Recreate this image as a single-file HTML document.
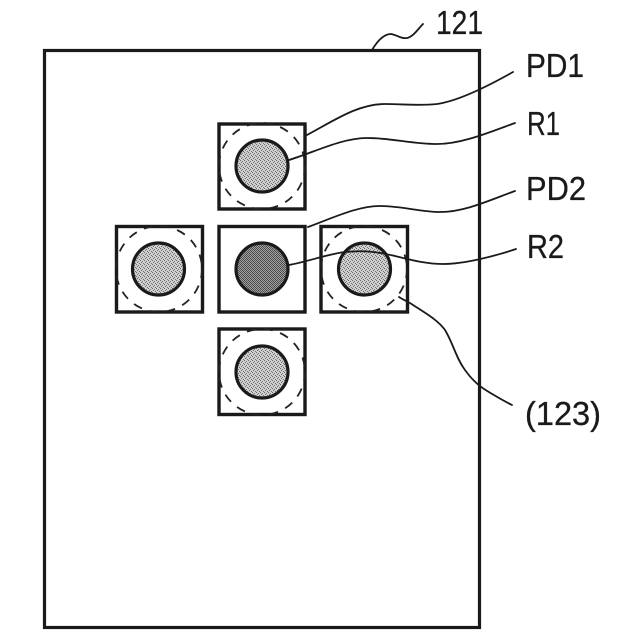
<!DOCTYPE html>
<html>
<head>
<meta charset="utf-8">
<style>
html,body{margin:0;padding:0;background:#fff;width:640px;height:640px;overflow:hidden}
svg{display:block}
text{font-family:"Liberation Sans",sans-serif;font-size:33px;fill:#1a1a1a;stroke:#1a1a1a;stroke-width:0.3px}
</style>
</head>
<body>
<svg width="640" height="640" viewBox="0 0 640 640" xmlns="http://www.w3.org/2000/svg">
<defs>
<pattern id="light" width="4" height="4" patternUnits="userSpaceOnUse">
<rect width="4" height="4" fill="#d0d0d0"/>
<rect x="0" y="0" width="1" height="1" fill="#666"/>
<rect x="2" y="1" width="1" height="1" fill="#777"/>
<rect x="1" y="2" width="1" height="1" fill="#6c6c6c"/>
<rect x="3" y="3" width="1" height="1" fill="#707070"/>
</pattern>
<pattern id="dark" width="4" height="4" patternUnits="userSpaceOnUse">
<rect width="4" height="4" fill="#a0a0a0"/>
<rect x="0" y="0" width="1" height="1" fill="#444"/>
<rect x="2" y="0" width="1" height="1" fill="#555"/>
<rect x="1" y="1" width="1" height="1" fill="#4c4c4c"/>
<rect x="3" y="1" width="1" height="1" fill="#505050"/>
<rect x="0" y="2" width="1" height="1" fill="#555"/>
<rect x="2" y="2" width="1" height="1" fill="#444"/>
<rect x="1" y="3" width="1" height="1" fill="#505050"/>
<rect x="3" y="3" width="1" height="1" fill="#4c4c4c"/>
</pattern>
</defs>

<rect x="44.5" y="50.5" width="435" height="577" fill="#fff" stroke="#1a1a1a" stroke-width="3.200"/>

<g fill="none" stroke="#1a1a1a" stroke-width="3.400">
<rect x="219" y="124" width="86" height="85"/>
<rect x="219" y="226.500" width="86" height="85.500"/>
<rect x="116.500" y="226.500" width="86" height="85.500"/>
<rect x="321" y="226.500" width="86.500" height="85.500"/>
<rect x="219" y="329" width="86" height="85.500"/>
</g>

<g fill="none" stroke="#222" stroke-width="1.800" stroke-dasharray="9 8">
<circle cx="262" cy="166" r="43"/>
<circle cx="159" cy="269" r="43"/>
<circle cx="364" cy="269" r="43"/>
<circle cx="262" cy="372" r="43"/>
</g>

<g stroke="#1a1a1a" stroke-width="3.200">
<circle cx="262" cy="166" r="26" fill="url(#light)"/>
<circle cx="158.500" cy="269" r="26" fill="url(#light)"/>
<circle cx="262" cy="269" r="26" fill="url(#dark)"/>
<circle cx="364.500" cy="269" r="26" fill="url(#light)"/>
<circle cx="262" cy="372" r="26" fill="url(#light)"/>
</g>

<g fill="none" stroke="#1a1a1a" stroke-width="1.800" stroke-linecap="round">
<path d="M372 50 C378 40 384 34 391 34 C397 35 401 39 407 38 C413 37 418 29 423 24"/>
<path d="M307 135 C335 120 358 104 385 104 C402 104 418 106 437 104 C458 101 490 85 513 72"/>
<path d="M289 160 C315 152 342 138 367 138 C392 138 412 144 437 144 C462 144 490 132 515 123"/>
<path d="M308 227 C335 217 358 206 380 206 C402 206 420 212 440 212 C465 212 490 200 515 191"/>
<path d="M289 265 C310 261 328 254 345 252 C365 250 378 252 395 256 C415 261 428 264 443 264 C465 264 495 256 516 249"/>
<path d="M399 297 C402 299 406 301 410 303 C425 313 438 320 445 330 C453 343 456 358 465 370 C472 380 478 385 484 389 C492 394 502 400 512 405"/>
</g>

<text x="436" y="34" textLength="47" lengthAdjust="spacingAndGlyphs">121</text>
<text x="526" y="77" textLength="58" lengthAdjust="spacingAndGlyphs">PD1</text>
<text x="527" y="135" textLength="33" lengthAdjust="spacingAndGlyphs">R1</text>
<text x="526" y="200" textLength="60" lengthAdjust="spacingAndGlyphs">PD2</text>
<text x="527" y="258" textLength="37" lengthAdjust="spacingAndGlyphs">R2</text>
<text x="525" y="425" textLength="76" lengthAdjust="spacingAndGlyphs">(123)</text>
</svg>
</body>
</html>
